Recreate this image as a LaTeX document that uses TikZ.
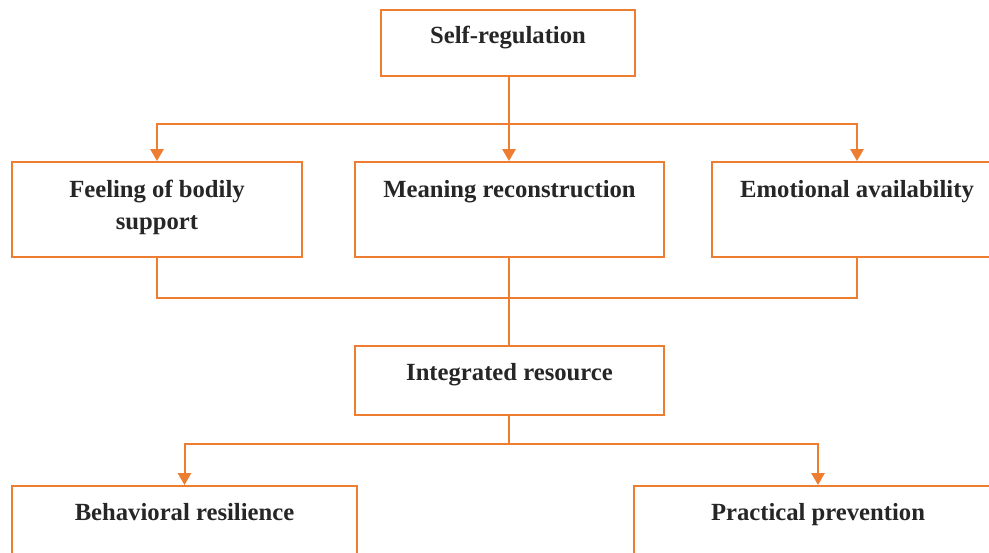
\documentclass[tikz,border=0pt]{standalone}
\usepackage{fontspec}
\setmainfont{Liberation Serif}
\usetikzlibrary{arrows.meta}
\definecolor{orng}{RGB}{237,125,49}
\begin{document}
\begin{tikzpicture}[x=0.75pt,y=-0.75pt,
  box/.style={draw=orng,line width=1.5pt,rectangle,inner sep=0pt},
  txt/.style={font=\fontsize{18.5}{24}\selectfont\bfseries,text=black!85,align=center,inner sep=0pt,anchor=base},
  conn/.style={draw=orng,line width=1.5pt},
  arr/.style={conn,-{Triangle[width=10pt,length=9pt]}}]
\useasboundingbox (0,0) rectangle (989,553);
\clip (0,0) rectangle (989,553);
\fill[white] (0,0) rectangle (989,553);
% boxes
\node[box,minimum width=254*0.75pt,minimum height=66*0.75pt] (sr) at (508,43) {};
\node[box,minimum width=290*0.75pt,minimum height=95*0.75pt] (fb) at (157,209.5) {};
\node[box,minimum width=309*0.75pt,minimum height=95*0.75pt] (mr) at (509.5,209.5) {};
\node[box,minimum width=290*0.75pt,minimum height=95*0.75pt] (ea) at (857,209.5) {};
\node[box,minimum width=309*0.75pt,minimum height=69*0.75pt] (ir) at (509.5,380.5) {};
\node[box,minimum width=345*0.75pt,minimum height=95*0.75pt] (br) at (184.5,533.5) {};
\node[box,minimum width=368*0.75pt,minimum height=95*0.75pt] (pp) at (818,533.5) {};
% texts
\node[txt] (tsr) at (508,43) {Self-regulation};
\node[txt] (tfb) at (157,229) {Feeling of bodily\\support};
\node[txt] (tmr) at (509.5,197) {Meaning reconstruction};
\node[txt] (tea) at (857,197) {Emotional availability};
\node[txt] (tir) at (509.5,380) {Integrated resource};
\node[txt] (tbr) at (184.5,520) {Behavioral resilience};
\node[txt] (tpp) at (818,520) {Practical prevention};
% junctions
\coordinate (j1) at (509,124);
\coordinate (j2) at (509,298);
\coordinate (j3) at (509,444);
% connectors
\draw[conn] (sr.south -| j1) -- (j1);
\draw[arr] (j1) -| (fb.north);
\draw[arr] (j1) -- (j1 |- mr.north);
\draw[arr] (j1) -| (ea.north);
\draw[conn] (fb.south) |- (j2);
\draw[conn] (ea.south) |- (j2);
\draw[conn] (mr.south -| j2) -- (j2);
\draw[conn] (j2) -- (j2 |- ir.north);
\draw[conn] (ir.south -| j3) -- (j3);
\draw[arr] (j3) -| (br.north);
\draw[arr] (j3) -| (pp.north);
\end{tikzpicture}
\end{document}
